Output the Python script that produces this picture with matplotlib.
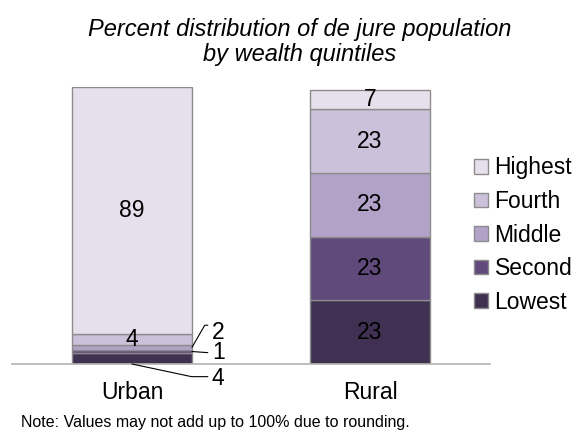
import numpy as np
import matplotlib.pyplot as plt
from matplotlib.patches import Patch

plt.rcParams['font.family'] = ['Liberation Sans', 'DejaVu Sans']

areas = ['Urban', 'Rural']
quintiles = ['Lowest', 'Second', 'Middle', 'Fourth', 'Highest']
urban = [4, 1, 2, 4, 89]
rural = [23, 23, 23, 23, 7]
colors = ['#403152', '#604a7b', '#b3a2c7', '#ccc1da', '#e6e0ec']

fig = plt.figure(figsize=(5.76, 4.34), dpi=100)
ax = fig.add_axes([12 / 576, 1 - 364 / 434, 478 / 576, 277 / 434])

fs = 16.5
x = np.arange(len(areas))
width = 0.504
bottom = np.zeros(len(areas))
for i, q in enumerate(quintiles):
    vals = np.array([urban[i], rural[i]])
    ax.bar(x, vals, width, bottom=bottom, color=colors[i],
           edgecolor='#8c8c8c', linewidth=1)
    # rural labels inside
    ax.text(x[1], bottom[1] + vals[1] / 2, str(rural[i]),
            ha='center', va='center', fontsize=fs, color='black')
    bottom += vals

# urban labels
ucum = np.cumsum([0] + urban)
ax.text(x[0], ucum[3] + urban[3] / 2, str(urban[3]), ha='center',
        va='center', fontsize=fs)
ax.text(x[0], ucum[4] + urban[4] / 2, str(urban[4]), ha='center',
        va='center', fontsize=fs)

# leader-line labels
line = dict(arrowstyle='-', color='black', lw=0.8, shrinkB=0, shrinkA=1)
ax.annotate(str(urban[2]), xy=(x[0] + width / 2, ucum[2] + urban[2] / 2),
            xytext=(0.336, 11.5), fontsize=fs, va='center', ha='left',
            arrowprops=dict(line, relpos=(0, 0.8),
                            connectionstyle='angle,angleA=180,angleB=60,rad=0'),
            annotation_clip=False)
ax.annotate(str(urban[1]), xy=(x[0] + width / 2, ucum[1] + urban[1] / 2),
            xytext=(0.336, 4.0), fontsize=fs, va='center', ha='left',
            arrowprops=dict(line, relpos=(0, 0.5)), annotation_clip=False)
ax.annotate(str(urban[0]), xy=(x[0], 0), xytext=(0.336, -5.4),
            fontsize=fs, va='center', ha='left',
            arrowprops=dict(line, relpos=(0, 0.6),
                            connectionstyle='angle,angleA=180,angleB=-12,rad=0'),
            annotation_clip=False)

ax.set_xlim(-0.504, 1.504)
ax.set_ylim(0, 100)
ax.set_xticks(x)
ax.set_xticklabels(areas, fontsize=fs)
ax.tick_params(axis='x', length=0, pad=12)
ax.set_yticks([])
for s in ['top', 'right', 'left']:
    ax.spines[s].set_visible(False)
ax.spines['bottom'].set_color('#b3b3b3')
ax.spines['bottom'].set_linewidth(1.2)

handles = [Patch(facecolor=colors[i], edgecolor='#8c8c8c', label=quintiles[i])
           for i in range(len(quintiles) - 1, -1, -1)]
fig.legend(handles=handles, loc='center left',
           bbox_to_anchor=(474 / 576, 1 - 235 / 434),
           frameon=False, fontsize=fs, handlelength=0.6, handleheight=0.6,
           handletextpad=0.3, labelspacing=0.46, borderpad=0,
           borderaxespad=0)

fig.text(300 / 576, 1 - 42 / 434,
         'Percent distribution of de jure population\nby wealth quintiles',
         ha='center', va='center', fontsize=17, style='italic',
         linespacing=1.1)
fig.text(21 / 576, 1 - 423 / 434,
         'Note: Values may not add up to 100% due to rounding.',
         ha='left', va='center', fontsize=11.5)

fig.savefig('out.png', dpi=100)
